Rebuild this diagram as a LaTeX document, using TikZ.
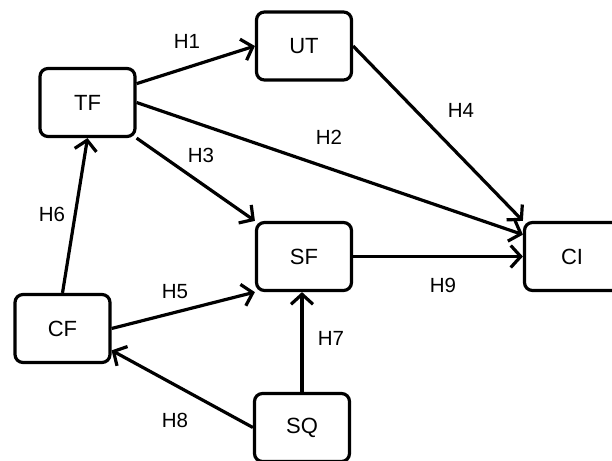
\documentclass[tikz,border=0pt]{standalone}
\usepackage{fontspec}
\setmainfont{Liberation Sans}
\usepackage{tikz}
\usetikzlibrary{%
arrows.meta,%
calc}

\begin{document}
\begin{tikzpicture}[x=1pt,y=-1pt,
    box/.style={draw,line width=3.2pt,rounded corners=8pt,minimum width=95pt,minimum height=68pt,font=\fontsize{22}{26}\selectfont},
    hyp/.style={line width=3.2pt,-{Straight Barb[length=10pt,width=22pt,line width=3.2pt]}},
    lbl/.style={inner sep=1pt,font=\fontsize{20.5}{24}\selectfont}]
\useasboundingbox (0,0) rectangle (612,460);
% constructs
\node[box] (TF) at (87.5,102.5) {TF};
\node[box] (UT) at (304,46) {UT};
\node[box] (SF) at (304,256.5) {SF};
\node[box] (CI) at (572,256.5) {CI};
\node[box] (CF) at (62.5,328.5) {CF};
\node[box] (SQ) at (302,427.5) {SQ};
% hypotheses
\draw[hyp] (TF.21) -- (UT.west);
\draw[hyp] (TF.east) -- (CI.156);
\draw[hyp] (TF.south east) -- (SF.north west);
\draw[hyp] (UT.east) -- (CI.north west);
\draw[hyp] (CF.east) -- (SF.south west);
\draw[hyp] (CF.north) -- (TF.south);
\draw[hyp] (SQ.north) -- (SQ.north |- SF.south);
\draw[hyp] (SQ.west) -- (CF.336);
\draw[hyp] (SF.east) -- (CI.west);
% labels
\node[lbl] (h1) at (187,41) {H1};
\node[lbl] (h2) at (329,137) {H2};
\node[lbl] (h3) at (201,155) {H3};
\node[lbl] (h4) at (461,110) {H4};
\node[lbl] (h5) at (175,292) {H5};
\node[lbl] (h6) at (52,214) {H6};
\node[lbl] (h7) at (331,338) {H7};
\node[lbl] (h8) at (175,420) {H8};
\node[lbl] (h9) at (443,285) {H9};
\end{tikzpicture}
\end{document}
